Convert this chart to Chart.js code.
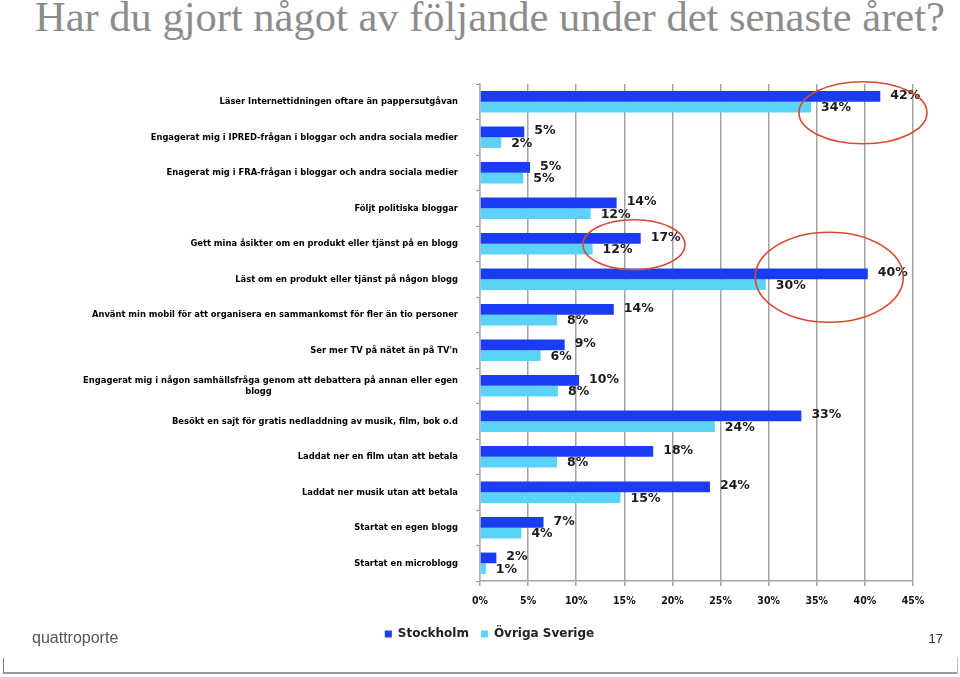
<!DOCTYPE html>
<html>
<head>
<meta charset="utf-8">
<script src="https://cdn.jsdelivr.net/npm/chart.js@4"></script>
<style>
  body { margin: 0; background: #fff; }
  #wrap { position: relative; width: 960px; height: 677px; overflow: hidden; }
  #title { position: absolute; left: 35px; top: -4px; font: 42.5px/42.5px "Liberation Serif", serif; color: #8c8c8c; white-space: nowrap; }
  #brand { position: absolute; left: 32px; top: 630px; font: 16px/16px "Liberation Sans", Arial, sans-serif; color: #555; }
  #page { position: absolute; right: 17px; top: 632px; font: 13px/13px "Liberation Sans", Arial, sans-serif; color: #333; }
  #foot { position: absolute; left: 3px; top: 672px; width: 955px; height: 2px; background: #9a9a9a; }
  #footL { position: absolute; left: 3px; top: 658px; width: 1px; height: 16px; background: #777; }
  #footR { position: absolute; left: 957px; top: 657px; width: 1px; height: 17px; background: #bbb; }
  canvas { position: absolute; left: 0; top: 0; }
</style>
</head>
<body>
<div id="wrap">
  <div id="title">Har du gjort något av följande under det senaste året?</div>
  <canvas id="myChart" width="960" height="677"></canvas>
  <div id="brand">quattroporte</div>
  <div id="page">17</div>
  <div id="foot"></div><div id="footL"></div><div id="footR"></div>
</div>
<script>
// categories (top to bottom)
var categories = [
    'Läser Internettidningen oftare än pappersutgåvan',
    'Engagerat mig i IPRED-frågan i bloggar och andra sociala medier',
    'Enagerat mig i FRA-frågan i bloggar och andra sociala medier',
    'Följt politiska bloggar',
    'Gett mina åsikter om en produkt eller tjänst på en blogg',
    'Läst om en produkt eller tjänst på någon blogg',
    'Använt min mobil för att organisera en sammankomst för fler än tio personer',
    'Ser mer TV på nätet än på TV\'n',
    ['Engagerat mig i någon samhällsfråga genom att debattera på annan eller egen', 'blogg' + ' '.repeat(64)],
    'Besökt en sajt för gratis nedladdning av musik, film, bok o.d',
    'Laddat ner en film utan att betala',
    'Laddat ner musik utan att betala',
    'Startat en egen blogg',
    'Startat en microblogg'
];
var stockholm = [41.6, 4.6, 5.2, 14.2, 16.7, 40.3, 13.9, 8.8, 10.3, 33.4, 18.0, 23.9, 6.6, 1.7];
var ovriga    = [34.4, 2.2, 4.5, 11.5, 11.7, 29.7, 8.0, 6.3, 8.1, 24.4, 8.0, 14.6, 4.3, 0.6];
var xTicks = [0, 5, 10, 15, 20, 25, 30, 35, 40, 45];

// red circles drawn on the slide: [category index, centre value, y offset px, rx px, ry px]
var circles = [
    [0, 39.8, 11, 64, 31],
    [4, 16.0, 1, 51, 25],
    [5, 36.3, -2, 74, 45]
];

var valueLabels = {
    id: 'valueLabels',
    afterDatasetsDraw: function (chart) {
        var ctx = chart.ctx;
        ctx.save();
        ctx.font = 'bold 12.5px "DejaVu Sans", sans-serif';
        ctx.fillStyle = '#1a1a1a';
        ctx.textBaseline = 'middle';
        chart.data.datasets.forEach(function (ds, i) {
            chart.getDatasetMeta(i).data.forEach(function (bar, j) {
                ctx.fillText(Math.round(ds.data[j]) + '%', bar.x + 10, bar.y + (i === 0 ? -1 : 1));
            });
        });
        ctx.restore();
    }
};

var ellipses = {
    id: 'ellipses',
    afterDraw: function (chart) {
        var ctx = chart.ctx;
        var xs = chart.scales.x, ys = chart.scales.y;
        ctx.save();
        ctx.strokeStyle = '#d8492e';
        ctx.lineWidth = 1.6;
        circles.forEach(function (c) {
            ctx.beginPath();
            ctx.ellipse(xs.getPixelForValue(c[1]), ys.getPixelForValue(c[0]) + c[2], c[3], c[4], 0, 0, Math.PI * 2);
            ctx.stroke();
        });
        ctx.restore();
    }
};

var ctx = document.getElementById('myChart').getContext('2d');
var myChart = new Chart(ctx, {
    type: 'bar',
    data: {
        labels: categories,
        datasets: [{
            label: 'Stockholm',
            data: stockholm,
            backgroundColor: '#1a3cf2'
        }, {
            label: 'Övriga Sverige',
            data: ovriga,
            backgroundColor: '#5bd2f7'
        }]
    },
    options: {
        indexAxis: 'y',
        responsive: false,
        animation: false,
        categoryPercentage: 0.6,
        barPercentage: 1.0,
        layout: { padding: { top: 84, left: 66, right: 47, bottom: 27 } },
        scales: {
            x: {
                min: 0,
                max: 45,
                afterBuildTicks: function (scale) {
                    scale.ticks = xTicks.map(function (v) { return { value: v }; });
                },
                afterFit: function (scale) { scale.height = 35; },
                grid: { color: '#a3a3a3', lineWidth: 1.5, tickLength: 5, drawTicks: true },
                border: { color: '#a3a3a3', width: 1.5 },
                ticks: {
                    padding: 9,
                    color: '#111',
                    font: { family: '"DejaVu Sans Condensed", "DejaVu Sans", sans-serif', size: 10.5, weight: 'bold' },
                    callback: function (v) { return v + '%'; }
                }
            },
            y: {
                afterFit: function (scale) { scale.width = 480 - 66; },
                grid: { drawOnChartArea: false, drawTicks: true, tickLength: 4, color: '#9a9a9a' },
                border: { color: '#a9b0c4', width: 1.5 },
                ticks: {
                    padding: 18,
                    color: '#000',
                    font: { family: '"DejaVu Sans Condensed", "DejaVu Sans", sans-serif', size: 9.3, weight: 'bold' }
                }
            }
        },
        plugins: {
            legend: {
                position: 'bottom',
                labels: {
                    boxWidth: 7,
                    boxHeight: 7,
                    padding: 12,
                    color: '#222',
                    font: { family: '"DejaVu Sans", sans-serif', size: 12, weight: 'bold' }
                }
            },
            tooltip: { enabled: false }
        }
    },
    plugins: [valueLabels, ellipses]
});
</script>
</body>
</html>
